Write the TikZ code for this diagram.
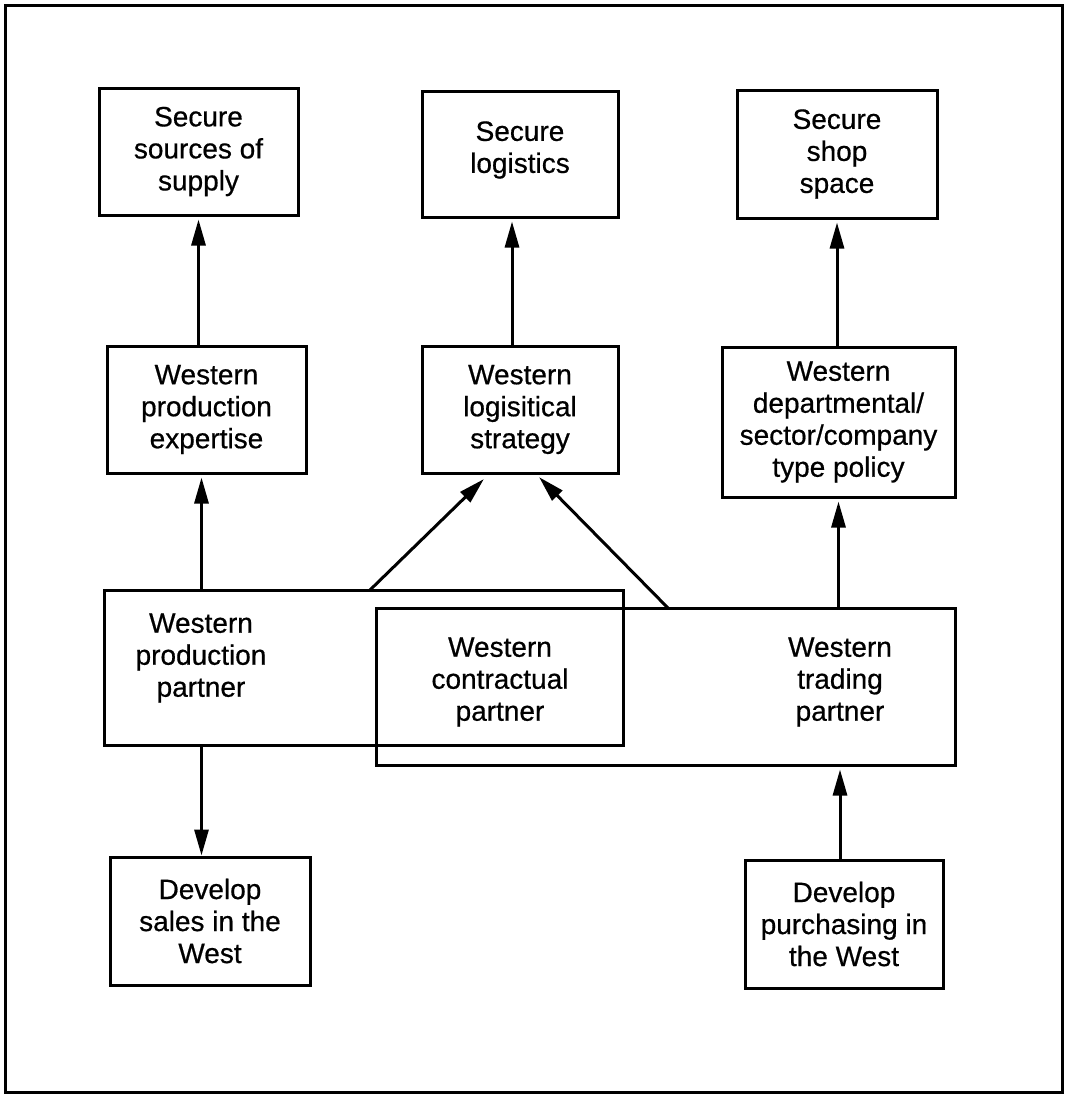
\documentclass[tikz,border=0pt]{standalone}
\usepackage{fontspec}
\setmainfont{Liberation Sans}[FakeBold=0.6]
\newfontfamily\boxfont{Liberation Sans}[FakeBold=0.6]
\usetikzlibrary{arrows.meta}

\begin{document}
\begin{tikzpicture}[x=1pt,y=-1pt,
  every node/.style={font=\boxfont\fontsize{28}{32}\selectfont, align=center},
  box/.style={draw, line width=3pt, inner sep=0pt, rectangle},
  label/.style={inner sep=0pt},
  arr/.style={line width=3pt, -{Triangle[length=26pt,width=14pt]}, shorten >=3pt}
]
\useasboundingbox (0,0) rectangle (1065,1096);

% outer frame
\draw[line width=3pt] (5,5) rectangle (1062,1092);

% top row: goals
\node[box, minimum width=199pt, minimum height=127pt] (A) at (198.5,151.5) {Secure\\sources of\\supply};
\node[box, minimum width=196pt, minimum height=126pt] (B) at (520,154) {};
\node[label] (Btxt) at (520,150) {Secure\\logistics};
\node[box, minimum width=200pt, minimum height=128pt] (C) at (837,154) {Secure\\shop\\space};

% middle row: Western capabilities
\node[box, minimum width=199pt, minimum height=127pt] (D) at (206.5,409.5) {Western\\production\\expertise};
\node[box, minimum width=196pt, minimum height=127pt] (E) at (520,409.5) {Western\\logisitical\\strategy};
\node[box, minimum width=233pt, minimum height=150pt] (F) at (838.5,422) {Western\\departmental/\\sector/company\\type policy};

% overlapping partner boxes
\node[box, minimum width=519pt, minimum height=155pt] (prod) at (363.5,667.5) {};
\node[box, minimum width=579pt, minimum height=157pt] (trade) at (665.5,686.5) {};
\node[label] (prodtxt) at (201,658) {Western\\production\\partner};
\node[label] (contrtxt) at (500,682) {Western\\contractual\\partner};
\node[label] (tradetxt) at (840,682) {Western\\trading\\partner};

% bottom row
\node[box, minimum width=200pt, minimum height=128pt] (sales) at (210,921) {Develop\\sales in the\\West};
\node[box, minimum width=198pt, minimum height=128pt] (purch) at (844,924) {Develop\\purchasing in\\the West};

% diagonal connector ends
\coordinate (lfoot) at (370,590);
\coordinate (ltip) at (486,477);
\coordinate (rfoot) at (668,608);
\coordinate (rtip) at (537,475);

% connectors
\draw[arr] (D.north -| A.south) -- (A.south);
\draw[arr] ([xshift=-8pt]E.north) -- ([xshift=-8pt]B.south);
\draw[arr] (F.north -| C.south) -- (C.south);
\draw[arr] ([xshift=-5pt]D.south |- prod.north) -- ([xshift=-5pt]D.south);
\draw[arr] (lfoot) -- (ltip);
\draw[arr] (rfoot) -- (rtip);
\draw[arr] (F.south |- trade.north) -- (F.south);
\draw[arr, shorten >=0pt] ([xshift=-5pt]D.south |- prod.south) -- ([xshift=-5pt]D.south |- sales.north);
\draw[arr] ([xshift=-4pt]purch.north) -- ([xshift=-4pt]purch.north |- trade.south);
\end{tikzpicture}
\end{document}
